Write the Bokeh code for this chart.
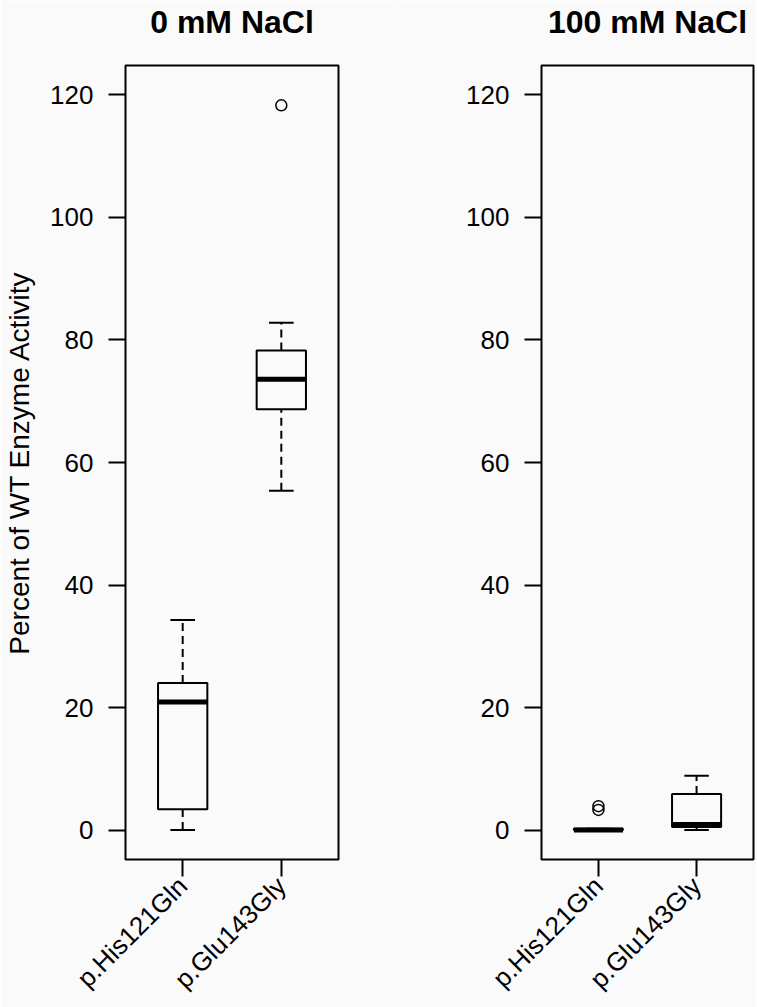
import math
from bokeh.plotting import figure
from bokeh.layouts import row
from bokeh.models import ColumnDataSource, FixedTicker, Range1d, Title
from bokeh.embed import file_html
from bokeh.resources import INLINE

# ---- data ----
categories = ["p.His121Gln", "p.Glu143Gly"]
panel_titles = ["0 mM NaCl", "100 mM NaCl"]
y_label = "Percent of WT Enzyme Activity"
y_ticks = [0, 20, 40, 60, 80, 100, 120]

nacl0_lower = [0.0, 55.4]
nacl0_q1 = [3.4, 68.7]
nacl0_median = [20.9, 73.6]
nacl0_q3 = [24.0, 78.3]
nacl0_upper = [34.3, 82.8]
nacl0_outlier_cat = ["p.Glu143Gly"]
nacl0_outlier_val = [118.3]

nacl100_lower = [0.0, 0.0]
nacl100_q1 = [0.0, 0.5]
nacl100_median = [0.0, 0.9]
nacl100_q3 = [0.2, 5.9]
nacl100_upper = [0.2, 8.85]
nacl100_outlier_cat = ["p.His121Gln", "p.His121Gln"]
nacl100_outlier_val = [3.3, 3.9]

BG = "#fafafa"
FONT = "Liberation Sans"
BOX_W = 0.5
CAP_W = 0.25
H = 1007
TOP = 65
FRAME_H = 794


def make_panel(title, lower, q1, med, q3, upper, out_cat, out_val,
               width, mb_left, mb_right, show_ylabel):
    p = figure(width=width, height=H, output_backend="svg", toolbar_location=None,
               x_range=Range1d(0.42, 2.58), y_range=Range1d(-4.8, 124.8),
               min_border_left=mb_left, min_border_right=mb_right,
               min_border_top=TOP, min_border_bottom=H - TOP - FRAME_H)
    p.background_fill_color = BG
    p.border_fill_color = BG
    p.grid.visible = False
    p.outline_line_color = "black"
    p.outline_line_width = 2

    # spacer between title and frame (closest to the frame)
    p.add_layout(Title(text=" ", text_font_size="1px", standoff=21), "above")
    p.title.text = title
    p.title.align = "center"
    p.title.vertical_align = "top"
    p.title.text_font = FONT
    p.title.text_font_size = "32px"
    p.title.text_font_style = "bold"
    p.title.text_color = "black"
    p.title.standoff = 0

    pos = [categories.index(c) + 1 for c in categories]
    src = ColumnDataSource(dict(
        x=pos, lower=lower, q1=q1, med=med, q3=q3, upper=upper,
        bl=[x - BOX_W / 2 for x in pos], br=[x + BOX_W / 2 for x in pos],
        cl=[x - CAP_W / 2 for x in pos], cr=[x + CAP_W / 2 for x in pos]))

    # whiskers (dashed)
    p.segment(x0="x", y0="q3", x1="x", y1="upper", source=src, line_color="black",
              line_width=2, line_dash="8 5")
    p.segment(x0="x", y0="lower", x1="x", y1="q1", source=src, line_color="black",
              line_width=2, line_dash="8 5")
    # caps
    p.segment(x0="cl", y0="upper", x1="cr", y1="upper", source=src, line_color="black", line_width=2)
    p.segment(x0="cl", y0="lower", x1="cr", y1="lower", source=src, line_color="black", line_width=2)
    # boxes
    p.vbar(x="x", width=BOX_W, bottom="q1", top="q3", source=src, fill_color=BG,
           line_color="black", line_width=2)
    # medians
    p.segment(x0="bl", y0="med", x1="br", y1="med", source=src, line_color="black",
              line_width=5, line_cap="butt")
    # outliers
    osrc = ColumnDataSource(dict(x=[categories.index(c) + 1 for c in out_cat], y=out_val))
    p.scatter(x="x", y="y", source=osrc, marker="circle", size=11, fill_color=None,
              line_color="black", line_width=1.5)

    # axes
    p.yaxis.ticker = FixedTicker(ticks=y_ticks)
    p.xaxis.ticker = FixedTicker(ticks=pos)
    p.xaxis.major_label_overrides = {x: c for x, c in zip(pos, categories)}
    p.xaxis.major_label_orientation = math.pi / 4
    for ax in (p.xaxis[0], p.yaxis[0]):
        ax.axis_line_color = None
        ax.major_tick_line_color = "black"
        ax.major_tick_line_width = 2
        ax.major_tick_out = 17
        ax.major_tick_in = 0
        ax.minor_tick_line_color = None
        ax.major_label_text_font = FONT
        ax.major_label_text_font_size = "26px"
        ax.major_label_text_color = "black"
    p.yaxis.major_label_standoff = 15
    p.xaxis.major_label_standoff = 5
    if show_ylabel:
        p.yaxis.axis_label = y_label
        p.yaxis.axis_label_text_font = FONT
        p.yaxis.axis_label_text_font_size = "28px"
        p.yaxis.axis_label_text_font_style = "normal"
        p.yaxis.axis_label_text_color = "black"
        p.yaxis.axis_label_standoff = 12
    return p


p1 = make_panel(panel_titles[0], nacl0_lower, nacl0_q1, nacl0_median, nacl0_q3, nacl0_upper,
                nacl0_outlier_cat, nacl0_outlier_val, width=398, mb_left=125, mb_right=60,
                show_ylabel=True)
p2 = make_panel(panel_titles[1], nacl100_lower, nacl100_q1, nacl100_median, nacl100_q3,
                nacl100_upper, nacl100_outlier_cat, nacl100_outlier_val, width=358,
                mb_left=143, mb_right=3, show_ylabel=False)

layout = row(p1, p2)
open("out.html", "w").write(file_html(layout, INLINE))
